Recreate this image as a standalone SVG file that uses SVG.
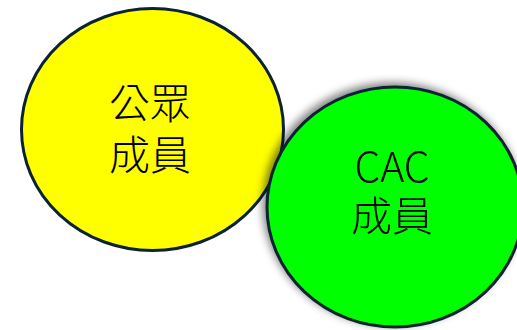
<svg xmlns="http://www.w3.org/2000/svg" width="517" height="330" viewBox="0 0 517 330">
<style>
.node{stroke:#0b2233;stroke-width:3}
.lbl{font-family:"Noto Sans CJK TC","Noto Sans",sans-serif;font-weight:300;font-size:41px;fill:#000;text-anchor:middle}
</style>
<defs>
<filter id="sh" x="-20%" y="-20%" width="140%" height="140%">
<feGaussianBlur in="SourceAlpha" stdDeviation="4"/>
<feOffset dx="-3" dy="-3" result="b"/>
<feComponentTransfer><feFuncA type="linear" slope="0.5"/></feComponentTransfer>
<feMerge><feMergeNode/><feMergeNode in="SourceGraphic"/></feMerge>
</filter>
</defs>
<rect width="517" height="330" fill="#fff"/>
<g id="connectors"/>
<g id="public">
<ellipse class="node" cx="152.5" cy="129.5" rx="131" ry="121" fill="#ffff00"/>
<text class="lbl"><tspan x="150" y="118">公眾</tspan><tspan x="150" y="170">成員</tspan></text>
</g>
<g id="cac" filter="url(#sh)">
<ellipse class="node" cx="395" cy="207" rx="128" ry="120" fill="#00ff00"/>
<text class="lbl"><tspan x="392" y="182">CAC</tspan><tspan x="392" y="231">成員</tspan></text>
</g>
</svg>
